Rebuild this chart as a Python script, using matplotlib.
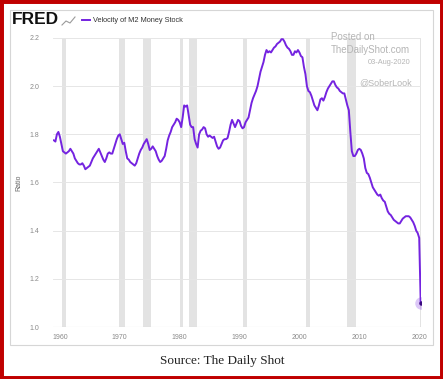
import matplotlib
matplotlib.use("Agg")
import matplotlib.pyplot as plt
from matplotlib.patches import Rectangle
from matplotlib.lines import Line2D

# ==== DATA ====
years = [1959.00, 1959.25, 1959.50, 1959.75, 1960.00, 1960.25, 1960.50, 1960.75,
         1961.00, 1961.25, 1961.50, 1961.75, 1962.00, 1962.25, 1962.50, 1962.75,
         1963.00, 1963.25, 1963.50, 1963.75, 1964.00, 1964.25, 1964.50, 1964.75,
         1965.00, 1965.25, 1965.50, 1965.75, 1966.00, 1966.25, 1966.50, 1966.75,
         1967.00, 1967.25, 1967.50, 1967.75, 1968.00, 1968.25, 1968.50, 1968.75,
         1969.00, 1969.25, 1969.50, 1969.75, 1970.00, 1970.25, 1970.50, 1970.75,
         1971.00, 1971.25, 1971.50, 1971.75, 1972.00, 1972.25, 1972.50, 1972.75,
         1973.00, 1973.25, 1973.50, 1973.75, 1974.00, 1974.25, 1974.50, 1974.75,
         1975.00, 1975.25, 1975.50, 1975.75, 1976.00, 1976.25, 1976.50, 1976.75,
         1977.00, 1977.25, 1977.50, 1977.75, 1978.00, 1978.25, 1978.50, 1978.75,
         1979.00, 1979.25, 1979.50, 1979.75, 1980.00, 1980.25, 1980.50, 1980.75,
         1981.00, 1981.25, 1981.50, 1981.75, 1982.00, 1982.25, 1982.50, 1982.75,
         1983.00, 1983.25, 1983.50, 1983.75, 1984.00, 1984.25, 1984.50, 1984.75,
         1985.00, 1985.25, 1985.50, 1985.75, 1986.00, 1986.25, 1986.50, 1986.75,
         1987.00, 1987.25, 1987.50, 1987.75, 1988.00, 1988.25, 1988.50, 1988.75,
         1989.00, 1989.25, 1989.50, 1989.75, 1990.00, 1990.25, 1990.50, 1990.75,
         1991.00, 1991.25, 1991.50, 1991.75, 1992.00, 1992.25, 1992.50, 1992.75,
         1993.00, 1993.25, 1993.50, 1993.75, 1994.00, 1994.25, 1994.50, 1994.75,
         1995.00, 1995.25, 1995.50, 1995.75, 1996.00, 1996.25, 1996.50, 1996.75,
         1997.00, 1997.25, 1997.50, 1997.75, 1998.00, 1998.25, 1998.50, 1998.75,
         1999.00, 1999.25, 1999.50, 1999.75, 2000.00, 2000.25, 2000.50, 2000.75,
         2001.00, 2001.25, 2001.50, 2001.75, 2002.00, 2002.25, 2002.50, 2002.75,
         2003.00, 2003.25, 2003.50, 2003.75, 2004.00, 2004.25, 2004.50, 2004.75,
         2005.00, 2005.25, 2005.50, 2005.75, 2006.00, 2006.25, 2006.50, 2006.75,
         2007.00, 2007.25, 2007.50, 2007.75, 2008.00, 2008.25, 2008.50, 2008.75,
         2009.00, 2009.25, 2009.50, 2009.75, 2010.00, 2010.25, 2010.50, 2010.75,
         2011.00, 2011.25, 2011.50, 2011.75, 2012.00, 2012.25, 2012.50, 2012.75,
         2013.00, 2013.25, 2013.50, 2013.75, 2014.00, 2014.25, 2014.50, 2014.75,
         2015.00, 2015.25, 2015.50, 2015.75, 2016.00, 2016.25, 2016.50, 2016.75,
         2017.00, 2017.25, 2017.50, 2017.75, 2018.00, 2018.25, 2018.50, 2018.75,
         2019.00, 2019.25, 2019.50, 2019.75, 2020.00, 2020.25]

velocity = [1.775, 1.77, 1.80, 1.81, 1.79, 1.76, 1.73, 1.725,
            1.72, 1.725, 1.73, 1.74, 1.73, 1.72, 1.70, 1.69,
            1.68, 1.675, 1.675, 1.68, 1.67, 1.655, 1.66, 1.665,
            1.67, 1.685, 1.70, 1.71, 1.72, 1.73, 1.74, 1.725,
            1.71, 1.695, 1.685, 1.70, 1.72, 1.725, 1.72, 1.72,
            1.74, 1.76, 1.78, 1.795, 1.80, 1.78, 1.76, 1.765,
            1.73, 1.70, 1.695, 1.685, 1.68, 1.675, 1.67, 1.68,
            1.70, 1.72, 1.735, 1.745, 1.76, 1.77, 1.78, 1.76,
            1.735, 1.74, 1.75, 1.74, 1.73, 1.71, 1.695, 1.685,
            1.69, 1.70, 1.71, 1.74, 1.775, 1.795, 1.81, 1.83,
            1.84, 1.85, 1.865, 1.86, 1.85, 1.83, 1.87, 1.92,
            1.915, 1.92, 1.88, 1.84, 1.83, 1.83, 1.78, 1.76,
            1.745, 1.80, 1.815, 1.82, 1.83, 1.825, 1.80, 1.79,
            1.795, 1.79, 1.785, 1.79, 1.77, 1.75, 1.74, 1.745,
            1.76, 1.775, 1.78, 1.78, 1.785, 1.81, 1.84, 1.86,
            1.845, 1.83, 1.845, 1.86, 1.855, 1.835, 1.825, 1.83,
            1.85, 1.86, 1.87, 1.90, 1.93, 1.95, 1.965, 1.98,
            2.00, 2.03, 2.06, 2.08, 2.10, 2.13, 2.15, 2.14,
            2.145, 2.14, 2.15, 2.16, 2.165, 2.175, 2.18, 2.185,
            2.195, 2.195, 2.185, 2.17, 2.16, 2.155, 2.145, 2.13,
            2.13, 2.145, 2.14, 2.15, 2.14, 2.125, 2.12, 2.08,
            2.05, 2.00, 1.98, 1.975, 1.96, 1.94, 1.92, 1.91,
            1.90, 1.92, 1.945, 1.95, 1.94, 1.955, 1.975, 1.99,
            2.00, 2.01, 2.02, 2.02, 2.005, 1.995, 1.99, 1.98,
            1.975, 1.97, 1.97, 1.945, 1.92, 1.90, 1.81, 1.73,
            1.71, 1.71, 1.72, 1.735, 1.74, 1.735, 1.72, 1.70,
            1.66, 1.64, 1.635, 1.62, 1.60, 1.58, 1.57, 1.56,
            1.55, 1.545, 1.55, 1.535, 1.525, 1.52, 1.50, 1.48,
            1.47, 1.465, 1.455, 1.445, 1.44, 1.435, 1.43, 1.43,
            1.44, 1.45, 1.455, 1.46, 1.46, 1.46, 1.455, 1.445,
            1.435, 1.42, 1.40, 1.39, 1.37, 1.10]

# NBER recessions (start, end)
rec_start = [1960.33, 1969.92, 1973.83, 1980.00, 1981.50, 1990.50, 2001.17, 2007.92, 2020.08]
rec_end = [1961.08, 1970.83, 1975.17, 1980.50, 1982.83, 1991.17, 2001.83, 2009.42, 2020.33]

yticks = [1.0, 1.2, 1.4, 1.6, 1.8, 2.0, 2.2]
xticks = [1960, 1970, 1980, 1990, 2000, 2010, 2020]

W, H = 443, 379
PURPLE = '#7423e0'

fig = plt.figure(figsize=(W / 100, H / 100), dpi=100)
fig.patch.set_facecolor('white')

def px(x0, y0, x1, y1):
    # pixel box (top-left origin) -> figure fraction [l, b, w, h]
    return [x0 / W, 1 - y1 / H, (x1 - x0) / W, (y1 - y0) / H]

ax = fig.add_axes(px(53, 38, 421, 327))

for s, e in zip(rec_start, rec_end):
    ax.axvspan(s, e, color='#e3e3e3', lw=0, zorder=1)

ax.plot(years, velocity, color=PURPLE, lw=1.4, zorder=3, solid_joinstyle='round')
ax.plot(years[-1], velocity[-1], 'o', ms=9, color=PURPLE, alpha=0.25, mec='none', zorder=4)
ax.plot(years[-1], velocity[-1], 'o', ms=2.2, color='#3a0a80', zorder=5)

ax.set_xlim(1958.85, 2020.3)
ax.set_ylim(1.0, 2.2)
ax.set_yticks(yticks)
ax.set_yticklabels([f"{v:.1f}" for v in yticks])
ax.set_xticks(xticks)
ax.grid(True, axis='y', color='#e6e6e6', lw=0.7, zorder=0)
for sp in ax.spines.values():
    sp.set_visible(False)
ax.axhline(1.0, color='#cfcfcf', lw=0.8, zorder=2)
ax.tick_params(length=0, labelsize=5, labelcolor='#8a8a8a')
ax.tick_params(axis='y', pad=10)
ax.tick_params(axis='x', pad=5)
for lab in ax.get_xticklabels() + ax.get_yticklabels():
    lab.set_family('Liberation Sans')
ax.set_ylabel('Ratio', fontsize=5, color='#666666', family='Liberation Sans', labelpad=5)

# chart frame + red border
fig.patches.append(Rectangle((10 / W, 1 - 345 / H), 423 / W, 335 / H, transform=fig.transFigure,
                             fill=False, ec='#d6d6d6', lw=0.8))
fig.patches.append(Rectangle((0, 0), 1, 1, transform=fig.transFigure,
                             fill=False, ec='#c00000', lw=5))

# header: FRED logo + legend
fig.text(12 / W, 1 - 20 / H, 'FRED', fontsize=12.5, fontweight='heavy', family='Liberation Sans',
         color='#111111', va='center', ha='left')
fig.lines.append(Line2D([62 / W, 66 / W, 70 / W, 75 / W], [1 - 25 / H, 1 - 21 / H, 1 - 23 / H, 1 - 17 / H],
                        transform=fig.transFigure, color='#9a9a9a', lw=0.8))
fig.lines.append(Line2D([82 / W, 90 / W], [1 - 20 / H, 1 - 20 / H], transform=fig.transFigure,
                        color=PURPLE, lw=1.4))
fig.text(93 / W, 1 - 20 / H, 'Velocity of M2 Money Stock', fontsize=5.3, family='Liberation Sans',
         color='#333333', va='center', ha='left')

# watermark
wm = '#b5b5b5'
fig.text(331 / W, 1 - 37 / H, 'Posted on', fontsize=7, family='Liberation Sans', color=wm,
         va='center', ha='left')
fig.text(410 / W, 1 - 50 / H, 'TheDailyShot.com', fontsize=7, family='Liberation Sans', color=wm,
         va='center', ha='right')
fig.text(410 / W, 1 - 63 / H, '03-Aug-2020', fontsize=5.3, family='Liberation Sans', color=wm,
         va='center', ha='right')
fig.text(412 / W, 1 - 83 / H, '@SoberLook', fontsize=6.5, family='Liberation Sans', color=wm,
         va='center', ha='right')

fig.text(222 / W, 1 - 361 / H, 'Source: The Daily Shot', fontsize=9.5, family='Liberation Serif',
         color='#222222', va='center', ha='center')

fig.savefig('out.png', dpi=100)
